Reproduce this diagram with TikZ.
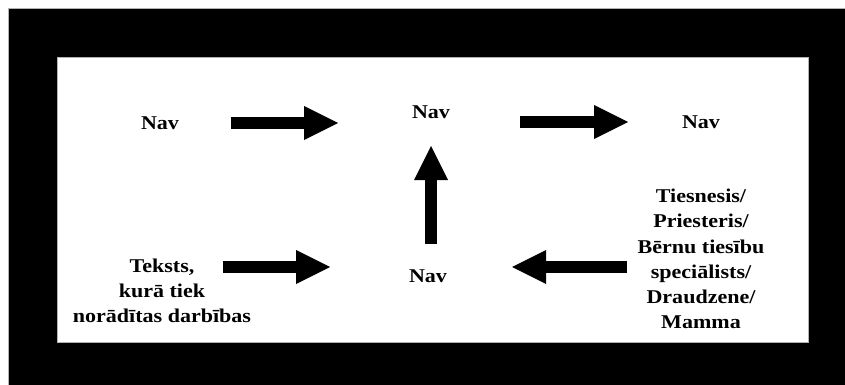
\documentclass[tikz,border=0pt]{standalone}
\usepackage{fontspec}
\setmainfont[FakeStretch=1.13]{Liberation Serif}
\usepackage{tikz}
\usetikzlibrary{arrows.meta}

\begin{document}
\begin{tikzpicture}[
        x=1pt, y=-1pt,
        lbl/.style={inner sep=0pt, align=center,
                    font=\fontsize{19.5}{25.3}\selectfont\bfseries},
        blockarrow/.style={line width=12pt,
                    -{Triangle[length=34pt, width=34pt, line width=0pt]}},
      ]
      \useasboundingbox (0,0) rectangle (845,385);
      \fill[black, draw=gray!60, line width=0.8pt] (8,8) rectangle (846,386);
      \fill[white, draw=gray!60, line width=0.8pt] (57,57) rectangle (808,342);
      % top row
      \node[lbl] (navA) at (160,123) {Nav};
      \node[lbl] (navB) at (431,112) {Nav};
      \node[lbl] (navC) at (701,122) {Nav};
      % bottom row
      \node[lbl] (navD) at (428,276) {Nav};
      \node[lbl] (teksts) at (162,291) {Teksts,\\kurā tiek\\norādītas darbības};
      \node[lbl] (roles) at (701,259)
        {Tiesnesis/\\Priesteris/\\Bērnu tiesību\\speciālists/\\Draudzene/\\Mamma};
      \coordinate (lowrow) at (0,267);
      % arrows
      \draw[blockarrow, shorten <=70.6pt, shorten >=93pt] (navA.center) -- (navA -| navB);
      \draw[blockarrow, shorten <=89pt, shorten >=73pt] (navB |- navC) -- (navC.center);
      \draw[blockarrow, shorten <=32pt, shorten >=34pt] (navB |- navD) -- (navB.center);
      \draw[blockarrow, shorten <=60.5pt, shorten >=98pt] (teksts |- lowrow) -- (navD |- lowrow);
      \draw[blockarrow, shorten <=74pt, shorten >=84pt] (roles |- lowrow) -- (navD |- lowrow);
    \end{tikzpicture}
\end{document}
